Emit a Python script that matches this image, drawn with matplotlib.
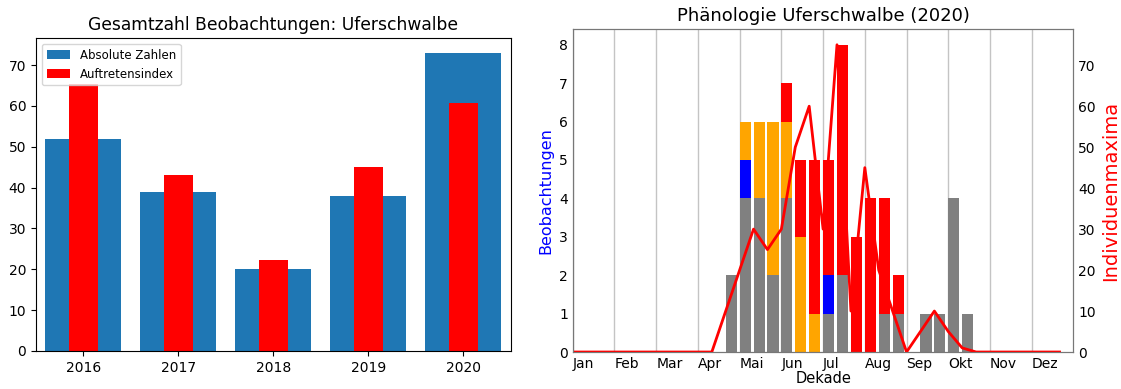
import numpy as np
import matplotlib.pyplot as plt

# linke Grafik: Gesamtzahl pro Jahr
jahre = [2016, 2017, 2018, 2019, 2020]
absolute_zahlen = [52, 39, 20, 38, 73]
auftretensindex = [65.5, 43.2, 22.4, 45.1, 60.8]

# rechte Grafik: Phaenologie 2020, 36 Dekaden
monate = ['Jan', 'Feb', 'Mar', 'Apr', 'Mai', 'Jun',
          'Jul', 'Aug', 'Sep', 'Okt', 'Nov', 'Dez']
dekaden = np.arange(36)
#        Jan      Feb      Mar      Apr      Mai      Jun      Jul      Aug      Sep      Okt      Nov      Dez
grau   = [0,0,0,   0,0,0,   0,0,0,   0,0,2,   4,4,2,   4,0,0,   1,2,0,   0,1,1,   0,1,1,   4,1,0,   0,0,0,   0,0,0]
blau   = [0,0,0,   0,0,0,   0,0,0,   0,0,0,   1,0,0,   0,0,0,   1,0,0,   0,0,0,   0,0,0,   0,0,0,   0,0,0,   0,0,0]
orange = [0,0,0,   0,0,0,   0,0,0,   0,0,0,   1,2,4,   2,3,1,   0,0,0,   0,0,0,   0,0,0,   0,0,0,   0,0,0,   0,0,0]
rot    = [0,0,0,   0,0,0,   0,0,0,   0,0,0,   0,0,0,   1,2,4,   3,6,3,   4,3,1,   0,0,0,   0,0,0,   0,0,0,   0,0,0]
maxima = [0,0,0,   0,0,0,   0,0,0,   0,0,10, 20,30,25, 30,50,60, 30,75,10, 45,20,10,  0,5,10,   5,1,0,   0,0,0,   0,0,0]

fig = plt.figure(figsize=(11.21, 3.89), dpi=100)

# ---- links
ax1 = fig.add_axes([0.0321, 0.0977, 0.4237, 0.8046])
ax1.bar(jahre, absolute_zahlen, width=0.8, color='#1f77b4', label='Absolute Zahlen')
ax1.bar(jahre, auftretensindex, width=0.3, color='red', label='Auftretensindex')
ax1.set_xlim(2015.5, 2020.5)
ax1.set_xticks(jahre)
ax1.tick_params(labelsize=10)
ax1.set_title('Gesamtzahl Beobachtungen: Uferschwalbe', fontsize=12.3)
ax1.legend(loc='upper left', fontsize=8.5)

# ---- rechts
ax = fig.add_axes([0.5109, 0.0951, 0.4467, 0.8293])
unten = np.zeros(36)
for werte, farbe in [(grau, 'gray'), (blau, 'blue'), (orange, 'orange'), (rot, 'red')]:
    ax.bar(dekaden, werte, width=0.8, align='edge', bottom=unten, color=farbe)
    unten = unten + np.array(werte)
ax.set_xlim(0, 36)
ax.set_xticks(range(0, 36, 3))
ax.set_xticklabels(monate, ha='left')
ax.grid(axis='x', color='#c4c4c4', linewidth=1)
ax.set_axisbelow(True)
ax.tick_params(length=0, labelsize=10)
ax.set_ylabel('Beobachtungen', color='blue', fontsize=11.5)
ax.set_xlabel('Dekade', fontsize=10.5, labelpad=0)
ax.set_title('Phänologie Uferschwalbe (2020)', fontsize=13)

ax2 = ax.twinx()
ax2.plot(dekaden, maxima, color='red', linewidth=2)
ax2.set_ylim(bottom=0)
ax2.tick_params(length=0, labelsize=10)
ax2.set_ylabel('Individuenmaxima', color='red', fontsize=14)

for a in (ax, ax2):
    for s in a.spines.values():
        s.set_color('#777777')

fig.savefig('out.png', dpi=100)
